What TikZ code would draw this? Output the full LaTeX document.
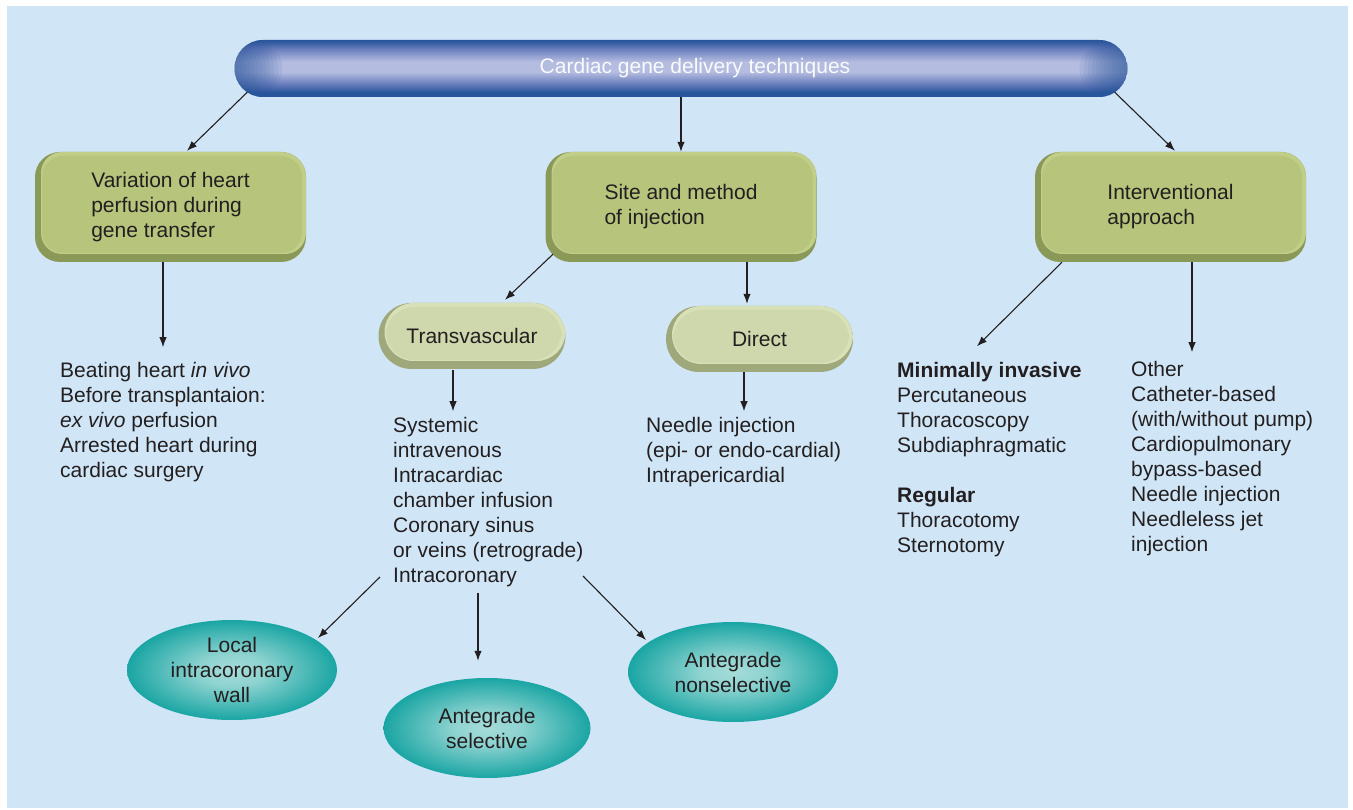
\documentclass[tikz,border=0pt]{standalone}
\usepackage{fontspec}
\setmainfont{Liberation Sans}
\usetikzlibrary{arrows.meta,shapes.geometric,calc}
\definecolor{bg}{RGB}{208,230,247}
\definecolor{txt}{RGB}{35,31,32}
\definecolor{gMain}{RGB}{182,196,124}
\definecolor{gDark}{RGB}{138,153,88}
\definecolor{gLight}{RGB}{192,206,136}
\definecolor{lMain}{RGB}{207,216,172}
\definecolor{lDark}{RGB}{158,168,122}
\definecolor{lLight}{RGB}{216,224,184}
\definecolor{bDark}{RGB}{40,85,155}
\definecolor{bMid}{RGB}{108,128,190}
\definecolor{bLight}{RGB}{180,188,224}
\definecolor{tealO}{RGB}{12,160,158}
\definecolor{tealI}{RGB}{165,220,217}
\pgfdeclareradialshading{ellsh}{\pgfpoint{0bp}{0bp}}{color(0bp)=(tealI); color(8bp)=(tealI!85!tealO); color(27bp)=(tealO); color(50bp)=(tealO)}
\pgfdeclareverticalshading{capsh}{100bp}{color(0bp)=(bDark); color(25bp)=(bDark); color(29bp)=(bDark); color(37bp)=(bMid); color(47bp)=(bLight); color(56bp)=(bLight); color(67bp)=(bMid); color(72bp)=(bDark!70!bMid); color(75bp)=(bDark); color(100bp)=(bDark)}
\newcommand\fs{\fontsize{21}{25}\selectfont}
\tikzset{
  bevelbox/.style n args={4}{draw=none, fill=#1, align=left, text=txt, font=\fs,
    path picture={
      \fill[#2, rounded corners=#4] ([shift={(6pt,8pt)}]path picture bounding box.south west) rectangle (path picture bounding box.north east);
      \fill[#3, rounded corners=#4] ([shift={(7pt,9pt)}]path picture bounding box.south west) rectangle ([shift={(-4pt,-4pt)}]path picture bounding box.north east);}},
  bigbox/.style={bevelbox={gDark}{gLight}{gMain}{21pt}, rounded corners=25pt, minimum width=271pt, minimum height=110pt},
  pill/.style={bevelbox={lDark}{lLight}{lMain}{29pt}, rounded corners=33pt, minimum width=187pt, minimum height=66pt},
  oval/.style={ellipse, draw=none, shading=ellsh, align=center, text=txt, font=\fs, inner sep=0pt},
  tblock/.style={anchor=north west, inner sep=0pt, align=left, text=txt, font=\fs},
  arr/.style={-{Latex[length=10pt,width=7.5pt]}, line width=1.1pt, draw=txt},
}
\begin{document}
\begin{tikzpicture}[x=1pt,y=-1pt]
\useasboundingbox (0,0) rectangle (1353,810);
\fill[bg] (7,6) rectangle (1348,808);

\node[draw=none, rounded corners=28.5pt, minimum width=893pt, minimum height=57pt,
  shading=capsh, text=white!92!bLight, font=\fs,
  path picture={
    \foreach \w in {4,8,...,48} {
      \fill[bDark, fill opacity=0.08] (path picture bounding box.south west) rectangle ([xshift=\w pt]path picture bounding box.north west);
      \fill[bDark, fill opacity=0.08] (path picture bounding box.south east) rectangle ([xshift=-\w pt]path picture bounding box.north east);}}]
  (top) at (681,68.5) {\hspace*{28pt}Cardiac gene delivery techniques};

\node[bigbox] (lbox) at (170.5,207) {Variation of heart\\perfusion during\\gene transfer};
\node[bigbox] (mbox) at (681,207) {Site and method\\of injection};
\node[bigbox] (rbox) at (1170.5,207) {Interventional\\approach};

\node[pill] (tv) at (472,336) {Transvascular};
\node[pill] (dir) at (759.5,339) {Direct};

\node[tblock] (ltext) at (60,361) {\rule{0pt}{16pt}Beating heart \textit{in vivo}\\Before transplantaion:\\\textit{ex vivo} perfusion\\Arrested heart during\\cardiac surgery};
\node[tblock] (tvtext) at (393,416) {\rule{0pt}{16pt}Systemic\\intravenous\\Intracardiac\\chamber infusion\\Coronary sinus\\or veins (retrograde)\\Intracoronary};
\node[tblock] (dtext) at (646,416) {\rule{0pt}{16pt}Needle injection\\(epi- or endo-cardial)\\Intrapericardial};
\node[tblock] (mitext) at (897,361) {\rule{0pt}{16pt}\textbf{Minimally invasive}\\Percutaneous\\Thoracoscopy\\Subdiaphragmatic\\[25pt]\textbf{Regular}\\Thoracotomy\\Sternotomy};
\node[tblock] (otext) at (1131,360) {\rule{0pt}{16pt}Other\\Catheter-based\\(with/without pump)\\Cardiopulmonary\\bypass-based\\Needle injection\\Needleless jet\\injection};

\node[oval, minimum width=210pt, minimum height=100pt] (e1) at (232,670) {Local\\intracoronary\\wall};
\node[oval, minimum width=207pt, minimum height=100pt] (e2) at (487,728) {Antegrade\\selective};
\node[oval, minimum width=210pt, minimum height=100pt] (e3) at (733,672) {Antegrade\\nonselective};

\draw[arr] ($(top.south west)+(13,-5)$) -- ($(lbox.north)+(16.5,-1)$);
\draw[arr] (top.south) -- (mbox.north);
\draw[arr] ($(top.south east)+(-13,-5)$) -- ($(rbox.north)+(4.5,-1)$);
\draw[arr] ($(lbox.south)+(-7.5,0)$) -- ++(0,85);
\draw[arr] ($(mbox.south)+(-128,-8)$) -- ($(tv.north)+(33,-3)$);
\draw[arr] ($(mbox.south)+(66,0)$) -- ($(dir.north)+(-12.5,-2)$);
\draw[arr] ($(tv.south)+(-19,1)$) -- ++(0,41);
\draw[arr] ($(dir.south)+(-15.5,0)$) -- ++(0,39);
\draw[arr] ($(rbox.south)+(-108.5,0)$) -- ++(-85,84);
\draw[arr] ($(rbox.south)+(21.5,0)$) -- ++(0,90);
\draw[arr] ($(tvtext.north west)+(-13,161)$) -- ($(e1.center)+(86,-32)$);
\draw[arr] ($(tvtext.north west)+(85,177)$) -- ($(e2.north)+(-9,-17)$);
\draw[arr] ($(tvtext.north west)+(190,160)$) -- ($(e3.center)+(-87,-32)$);
\end{tikzpicture}
\end{document}
